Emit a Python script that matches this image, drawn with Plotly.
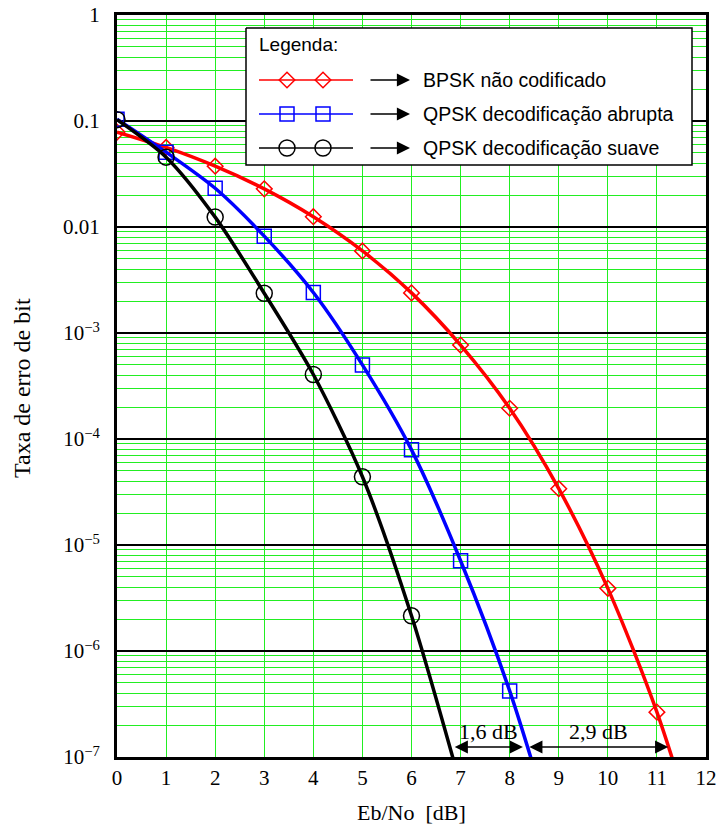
import plotly.graph_objects as go

# ---------------- data ----------------
ebno = [0, 1, 2, 3, 4, 5, 6, 7, 8, 9, 10, 11]
bpsk_uncoded = [0.0786, 0.0563, 0.0375, 0.0229, 0.0125, 0.00595, 0.00239,
                7.7e-4, 1.95e-4, 3.4e-5, 3.9e-6, 2.65e-7]
bpsk_tail_x = [12]
bpsk_tail_y = [9e-9]

ebno_hard = [0, 1, 2, 3, 4, 5, 6, 7, 8]
qpsk_hard = [0.104, 0.0508, 0.0232, 0.0082, 0.00241, 5.0e-4, 7.9e-5, 7.1e-6, 4.2e-7]
hard_tail_x = [9]
hard_tail_y = [1.3e-8]

ebno_soft = [0, 1, 2, 3, 4, 5, 6]
qpsk_soft = [0.103, 0.0456, 0.0124, 0.00237, 4.06e-4, 4.4e-5, 2.15e-6]
soft_tail_x = [7]
soft_tail_y = [5.4e-8]

x_ticks = list(range(0, 13))
y_major = [1, 0.1, 0.01, 1e-3, 1e-4, 1e-5, 1e-6, 1e-7]
y_major_text = ["1", "0.1", "0.01", "10<sup>−3</sup>", "10<sup>−4</sup>",
                "10<sup>−5</sup>", "10<sup>−6</sup>", "10<sup>−7</sup>"]

gain_labels = ["1,6 dB", "2,9 dB"]
gain_from = [6.85, 8.37]
gain_to = [8.27, 11.23]

legend_names = ["BPSK não codificado", "QPSK decodificação abrupta",
                "QPSK decodificação suave"]
x_title = "Eb/No  [dB]"
y_title = "Taxa de erro de bit"

# ---------------- style ----------------
GREEN = "#22ee22"
SERIF = "Liberation Serif, Times New Roman, serif"
SANS = "Liberation Sans, Arial, sans-serif"
W, H = 720, 826
L, R, T, B = 117, 14, 15, 69

styles = [
    dict(color="#ff0000", symbol="diamond-open", size=12),
    dict(color="#0000ff", symbol="square-open", size=14),
    dict(color="#000000", symbol="circle-open", size=16),
]

fig = go.Figure()

series = [
    (ebno + bpsk_tail_x, bpsk_uncoded + bpsk_tail_y),
    (ebno_hard + hard_tail_x, qpsk_hard + hard_tail_y),
    (ebno_soft + soft_tail_x, qpsk_soft + soft_tail_y),
]
for (xs, ys), st in zip(series, styles):
    fig.add_trace(go.Scatter(
        x=xs, y=ys, mode="lines+markers",
        line=dict(color=st["color"], width=3.5, shape="spline", smoothing=0.8),
        marker=dict(symbol=st["symbol"], size=st["size"], color=st["color"],
                    line=dict(width=1.5, color=st["color"])),
        showlegend=False, cliponaxis=True,
    ))

# ---------------- manual legend (overlay axis in pixel units) ----------------
box = dict(x0=246, x1=692, y0=28, y1=165)
fig.add_trace(go.Scatter(
    x=[box["x0"], box["x1"], box["x1"], box["x0"], box["x0"]],
    y=[box["y0"], box["y0"], box["y1"], box["y1"], box["y0"]],
    xaxis="x2", yaxis="y2", mode="lines", fill="toself",
    fillcolor="white", line=dict(color="black", width=1.5),
    showlegend=False, hoverinfo="skip"))
rows = [80, 114, 148]
for ry, st in zip(rows, styles):
    fig.add_trace(go.Scatter(
        x=[259, 353], y=[ry, ry], xaxis="x2", yaxis="y2", mode="lines",
        line=dict(color=st["color"], width=1.5), showlegend=False, hoverinfo="skip"))
    fig.add_trace(go.Scatter(
        x=[287, 323], y=[ry, ry], xaxis="x2", yaxis="y2", mode="markers",
        marker=dict(symbol=st["symbol"], size=st["size"], color=st["color"],
                    line=dict(width=1.5, color=st["color"])),
        showlegend=False, hoverinfo="skip"))

annotations = []
annotations.append(dict(x=257, y=44, xref="x2", yref="y2", text="Legenda:",
                        showarrow=False, xanchor="left", yanchor="middle",
                        font=dict(family=SANS, size=19, color="black")))
for ry, name in zip(rows, legend_names):
    annotations.append(dict(x=410, y=ry, ax=369, ay=ry, xref="x2", yref="y2",
                            axref="x2", ayref="y2", text="", showarrow=True,
                            arrowhead=2, arrowsize=1.75, arrowwidth=1.5,
                            arrowcolor="black"))
    annotations.append(dict(x=421, y=ry, xref="x2", yref="y2", text=name,
                            showarrow=False, xanchor="left", yanchor="middle",
                            font=dict(family=SANS, size=19.5, color="black")))

# ---------------- gain arrows ----------------
arrow_y = -6.906
text_y = -6.76
for lab, x0, x1 in zip(gain_labels, gain_from, gain_to):
    annotations.append(dict(x=x1, y=arrow_y, ax=x0, ay=arrow_y, xref="x", yref="y",
                            axref="x", ayref="y", text="", showarrow=True,
                            arrowhead=2, startarrowhead=2, arrowside="end+start",
                            arrowsize=1.75, startarrowsize=1.75, arrowwidth=1.5,
                            arrowcolor="black"))
    annotations.append(dict(x=(x0 + x1) / 2, y=text_y, xref="x", yref="y",
                            text=lab, showarrow=False,
                            font=dict(family=SERIF, size=22, color="black")))

# ---------------- axis titles (as annotations, fixed margins) ----------------
annotations.append(dict(x=0.5, y=0, xref="paper", yref="paper", text=x_title,
                        showarrow=False, xanchor="center", yanchor="middle",
                        yshift=-55, font=dict(family=SERIF, size=22, color="black")))
annotations.append(dict(x=0, y=1 - (388 - T) / (H - T - B), xref="paper", yref="paper",
                        text=y_title, showarrow=False, textangle=-90,
                        xanchor="center", yanchor="middle", xshift=-(L - 22),
                        font=dict(family=SERIF, size=24, color="black")))

minor_vals = [m * 10.0 ** e for e in range(-7, 0) for m in range(2, 10)]

fig.update_layout(
    width=W, height=H,
    margin=dict(l=L, r=R, t=T, b=B, autoexpand=False),
    paper_bgcolor="white", plot_bgcolor="white",
    font=dict(family=SERIF, size=21, color="black"),
    annotations=annotations,
    xaxis=dict(
        range=[0, 12], tickvals=x_ticks, ticktext=[str(v) for v in x_ticks],
        showgrid=True, gridcolor=GREEN, gridwidth=1,
        showline=True, linecolor="black", linewidth=3, mirror=True,
        ticks="", zeroline=False, automargin=False,
        tickfont=dict(family=SERIF, size=21, color="black"),
    ),
    yaxis=dict(
        type="log", range=[-7, 0], tickvals=y_major, ticktext=y_major_text,
        showgrid=True, gridcolor="black", gridwidth=2,
        minor=dict(tickvals=minor_vals, showgrid=True, gridcolor=GREEN,
                   gridwidth=1, ticks=""),
        showline=True, linecolor="black", linewidth=3, mirror=True,
        ticks="", zeroline=False, ticklabelstandoff=10, automargin=False,
        tickfont=dict(family=SERIF, size=21, color="black"),
    ),
    xaxis2=dict(overlaying="x", range=[L, W - R], visible=False, fixedrange=True),
    yaxis2=dict(overlaying="y", range=[H - B, T], visible=False, fixedrange=True),
)

fig.write_html("out.html")
